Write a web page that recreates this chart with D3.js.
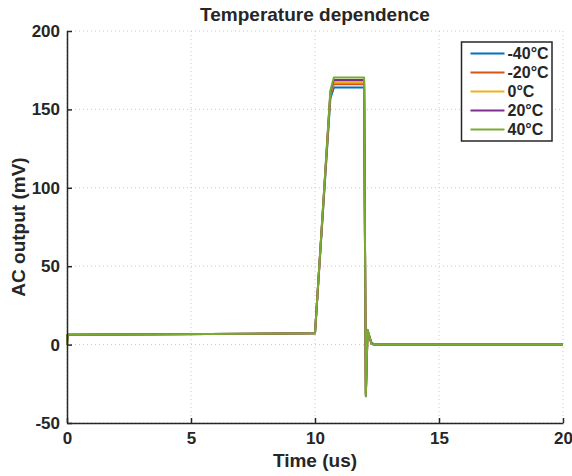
<!DOCTYPE html>
<html>
<head>
<meta charset="utf-8">
<script src="https://cdn.jsdelivr.net/npm/d3@7"></script>
<style>
  body { margin: 0; background: #fff; }
  text { font-family: "Liberation Sans", Arial, sans-serif; font-weight: bold; fill: #262626; }
</style>
</head>
<body>
<svg id="chart" width="572" height="476"></svg>
<script>
// data
const times = [0, 0.02, 10.0, 10.62, 10.76, 11.98, 12.05, 12.12, 12.28, 12.4, 20];
const seriesNames = ["-40°C", "-20°C", "0°C", "20°C", "40°C"];
const seriesColors = ["#0072BD", "#D95319", "#EDB120", "#7E2F8E", "#77AC30"];
const valsM40 = [0, 6.3, 7.2, 157, 163.9, 163.9, -31, 8.5, 1.2, 0, 0];
const valsM20 = [0, 6.3, 7.2, 159, 166.0, 166.0, -32, 9.0, 0.6, 0, 0];
const vals0   = [0, 6.3, 7.2, 160, 167.5, 167.5, -32, 9.2, 0.4, 0, 0];
const vals20  = [0, 6.3, 7.2, 161, 168.8, 168.8, -33, 9.3, 0.3, 0, 0];
const vals40  = [0, 6.3, 7.2, 162, 170.4, 170.4, -33, 9.4, 0.3, 0, 0];
const allVals = [valsM40, valsM20, vals0, vals20, vals40];
const xTicks = [0, 5, 10, 15, 20];
const yTicks = [-50, 0, 50, 100, 150, 200];

const margin = { top: 31, right: 9, left: 67, bottom: 53 };
const chart = d3.select("#chart");
const width = 572, height = 476;
const innerWidth = width - margin.left - margin.right;
const innerHeight = height - margin.top - margin.bottom;

let x = d3.scaleLinear().domain([0, 20]).range([0, innerWidth]);
let y = d3.scaleLinear().domain([-50, 200]).range([innerHeight, 0]);

const g = chart.append("g")
    .attr("transform", "translate(" + margin.left + "," + margin.top + ")");

// grid
g.selectAll(".hgrid").data(yTicks).enter().append("line")
    .attr("x1", 0).attr("x2", innerWidth)
    .attr("y1", d => y(d)).attr("y2", d => y(d))
    .attr("stroke", "#c8c8c8").attr("stroke-width", 1).attr("stroke-dasharray", "1,3");
g.selectAll(".vgrid").data(xTicks).enter().append("line")
    .attr("y1", 0).attr("y2", innerHeight)
    .attr("x1", d => x(d)).attr("x2", d => x(d))
    .attr("stroke", "#c8c8c8").attr("stroke-width", 1).attr("stroke-dasharray", "1,3");

// lines
const line = d3.line().x((d, i) => x(times[i])).y(d => y(d));
allVals.forEach((vals, k) => {
    g.append("path")
        .datum(vals)
        .attr("d", line)
        .attr("fill", "none")
        .attr("stroke", seriesColors[k])
        .attr("stroke-width", 2)
        .attr("stroke-linejoin", "round");
});

// axes (ticks point inward)
const fmt = d => String(d);
const yAxis = g.append("g").call(d3.axisLeft(y).tickValues(yTicks).tickFormat(fmt)
    .tickSizeInner(-5).tickSizeOuter(0).tickPadding(7));
const xAxis = g.append("g").attr("transform", "translate(0," + innerHeight + ")")
    .call(d3.axisBottom(x).tickValues(xTicks).tickFormat(fmt)
    .tickSizeInner(-5).tickSizeOuter(0).tickPadding(9));
[xAxis, yAxis].forEach(ax => {
    ax.select(".domain").attr("stroke", "#262626").attr("stroke-width", 1.5);
    ax.selectAll(".tick line").attr("stroke", "#262626").attr("stroke-width", 1.5);
    ax.selectAll(".tick text").attr("fill", "#262626").attr("font-size", 17).attr("font-weight", "bold");
});
yAxis.selectAll(".tick text").attr("text-anchor", "end");
xAxis.selectAll(".tick text").attr("text-anchor", "middle");

// labels
g.append("text")
    .attr("x", innerWidth / 2).attr("y", -10)
    .attr("text-anchor", "middle")
    .style("font-size", "19px")
    .text("Temperature dependence");
g.append("text")
    .attr("x", innerWidth / 2).attr("y", innerHeight + 44)
    .attr("text-anchor", "middle")
    .style("font-size", "19px")
    .text("Time (us)");
g.append("text")
    .attr("transform", "rotate(-90)")
    .attr("x", -innerHeight / 2).attr("y", -42)
    .attr("text-anchor", "middle")
    .style("font-size", "19px")
    .text("AC output (mV)");

// legend
const lg = chart.append("g").attr("transform", "translate(461.5,42)");
lg.append("rect").attr("width", 90.5).attr("height", 99)
    .attr("fill", "#fff").attr("stroke", "#262626").attr("stroke-width", 1.5);
seriesNames.forEach((name, i) => {
    const yy = 11.5 + i * 19;
    lg.append("line").attr("x1", 9).attr("x2", 43).attr("y1", yy).attr("y2", yy)
        .attr("stroke", seriesColors[i]).attr("stroke-width", 2);
    lg.append("text").attr("x", 46).attr("y", yy + 5.8)
        .style("font-size", "16px").text(name);
});
</script>
</body>
</html>
